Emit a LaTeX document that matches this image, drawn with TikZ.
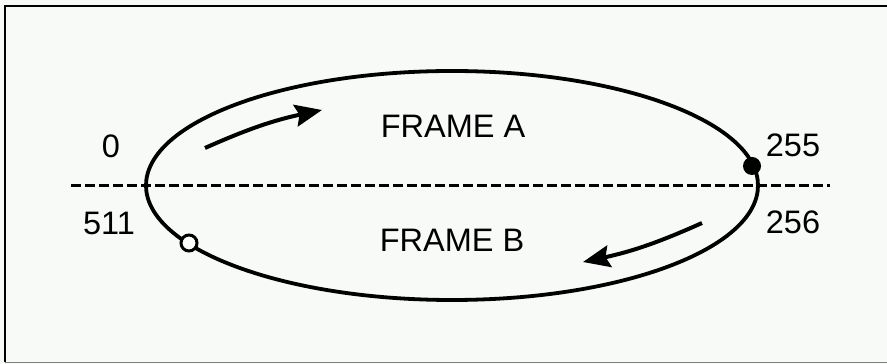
\documentclass[tikz,border=0pt]{standalone}
\usepackage{fontspec}
\setmainfont{Liberation Sans}
\usetikzlibrary{arrows.meta}
\definecolor{bg}{HTML}{F8FAF8}
\begin{document}
\begin{tikzpicture}[x=1pt,y=1pt,
  lbl/.style={inner sep=0pt, font=\fontsize{32.5}{32.5}\selectfont},
  ring/.style={line width=3.8pt},
  flowarrow/.style={line width=4pt, -{Stealth[length=27pt,width=22pt,inset=4pt]}},
  divider/.style={line width=3pt, dash pattern=on 10pt off 4pt}]
\useasboundingbox (0,0) rectangle (887,364);
\fill[bg] (0,0) rectangle (887,364);
% frame
\draw[line width=2pt] (5,2) -- (5,358) -- (887,358);
\draw[line width=1.5pt, gray] (5,1.5) -- (887,1.5);
% ellipse
\draw[ring] (452,178.5) ellipse [x radius=306, y radius=114.5];
% dashed divider
\coordinate (dl) at (71,178);
\coordinate (dr) at (830,178);
\draw[divider] (dl) -- (dr);
% markers
\node[circle, fill=black, minimum size=18pt, inner sep=0pt] (full) at (752,198) {};
\node[circle, draw=black, fill=white, line width=3pt, minimum size=16pt, inner sep=0pt] (empty) at (189,121) {};
% labels
\node[lbl] (l0) at (111,218) {0};
\node[lbl] (l255) at (793,219) {255};
\node[lbl] (l511) at (109,141) {511};
\node[lbl] (l256) at (793,142) {256};
\node[lbl] (fa) at (453,238) {FRAME A};
\node[lbl] (fb) at (452,124) {FRAME B};
% arrows
\coordinate (a1s) at (205,216);
\coordinate (a1e) at (322,254);
\coordinate (a2s) at (702,141);
\coordinate (a2e) at (583,102);
\draw[flowarrow] (a1s) to[bend left=6] (a1e);
\draw[flowarrow] (a2s) to[bend left=6] (a2e);
\end{tikzpicture}
\end{document}
